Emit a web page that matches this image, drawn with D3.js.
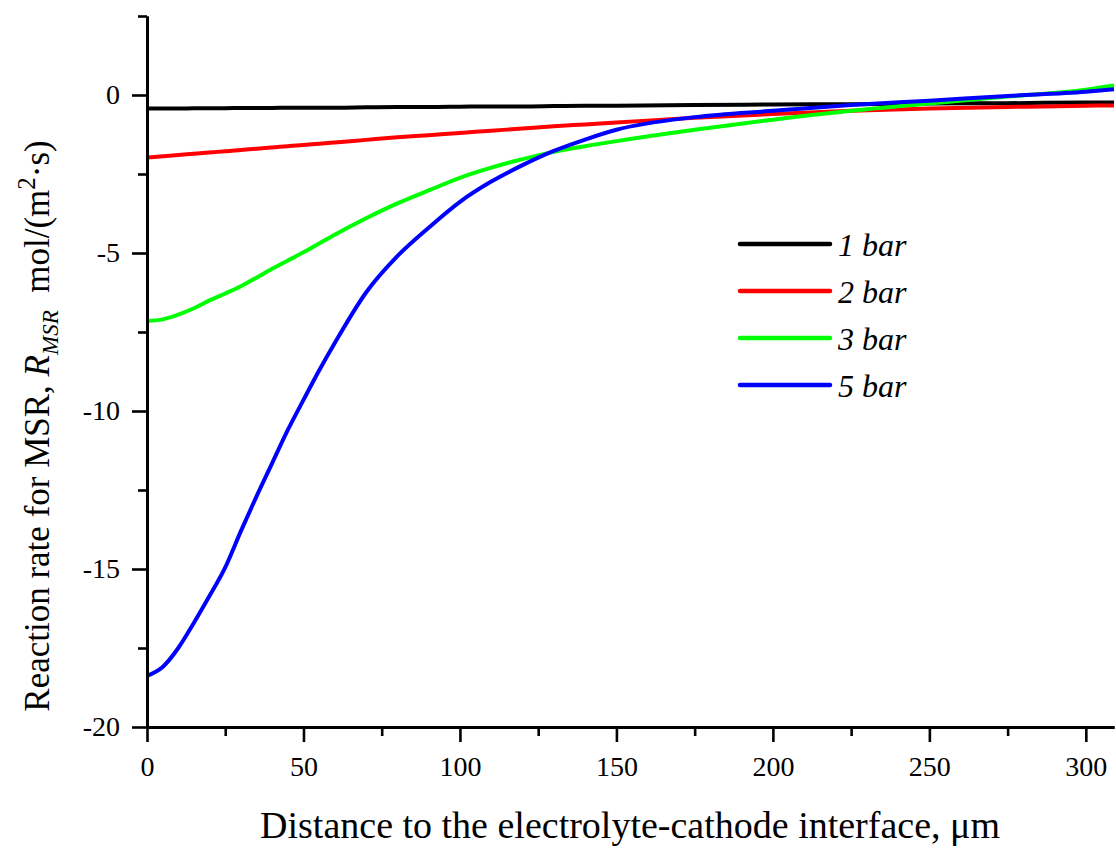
<html>
<head>
    <script src="https://d3js.org/d3.v7.min.js"></script>
    <style>
        body { margin: 0; background: #fff; }
        text { font-family: "Liberation Serif", "Times New Roman", serif; }
    </style>
</head>
<body>
    <div id="cont"></div>
    <script>
        // distance (um) shared by all series
        var dist = [0, 5, 10, 15, 20, 25, 30, 35, 40, 45, 50, 55, 60, 70, 80, 90, 100,
                    110, 120, 130, 140, 150, 175, 200, 225, 250, 275, 300, 309];

        var bar1 = [-0.43, -0.43, -0.43, -0.42, -0.42, -0.42, -0.41, -0.41, -0.41, -0.40, -0.40, -0.40, -0.40, -0.39, -0.38, -0.38, -0.37,
                    -0.36, -0.36, -0.35, -0.34, -0.34, -0.32, -0.30, -0.29, -0.27, -0.26, -0.24, -0.24];
        var bar2 = [-1.98, -1.94, -1.90, -1.86, -1.82, -1.78, -1.74, -1.70, -1.66, -1.62, -1.58, -1.54, -1.50, -1.42, -1.34, -1.27, -1.20,
                    -1.13, -1.06, -0.99, -0.93, -0.87, -0.72, -0.60, -0.50, -0.43, -0.38, -0.34, -0.33];
        var bar3 = [-7.15, -7.10, -6.95, -6.75, -6.50, -6.28, -6.05, -5.78, -5.50, -5.24, -4.98, -4.70, -4.42, -3.90, -3.43, -3.02, -2.62,
                    -2.30, -2.03, -1.80, -1.62, -1.46, -1.10, -0.78, -0.50, -0.27, -0.05, 0.17, 0.30];
        var bar5 = [-18.38, -18.10, -17.50, -16.70, -15.85, -14.95, -13.80, -12.70, -11.65, -10.60, -9.65, -8.72, -7.85, -6.25, -5.10, -4.20, -3.38,
                    -2.74, -2.22, -1.77, -1.41, -1.10, -0.70, -0.50, -0.32, -0.18, -0.03, 0.10, 0.18];

        var seriesNames = ["1 bar", "2 bar", "3 bar", "5 bar"];
        var seriesColors = ["#000000", "#ff0000", "#00ff00", "#0000ff"];
        var seriesValues = [bar1, bar2, bar3, bar5];

        var xMajor = [0, 50, 100, 150, 200, 250, 300];
        var xMinor = [25, 75, 125, 175, 225, 275];
        var yMajor = [-20, -15, -10, -5, 0];
        var yMinor = [-17.5, -12.5, -7.5, -2.5, 2.5];

        var W = 1116, H = 848;
        var svg = d3.select("#cont").append("svg")
            .attr("width", W)
            .attr("height", H);

        var x = d3.scaleLinear().domain([0, 309]).range([147, 1114]);
        var y = d3.scaleLinear().domain([-20, 2.5]).range([727, 16]);

        // curves
        var line = d3.line()
            .x(function (d) { return x(d[0]); })
            .y(function (d) { return y(d[1]); })
            .curve(d3.curveMonotoneX);

        seriesValues.forEach(function (vals, i) {
            svg.append("path")
                .datum(dist.map(function (d, k) { return [d, vals[k]]; }))
                .attr("fill", "none")
                .attr("stroke", seriesColors[i])
                .attr("stroke-width", 4)
                .attr("d", line);
        });

        // axes
        var styleAxis = function (g) {
            g.attr("font-family", null);
            g.select(".domain").attr("stroke", "#000").attr("stroke-width", 3);
            g.selectAll(".tick line").attr("stroke", "#000").attr("stroke-width", 2.6);
            g.selectAll(".tick text")
                .attr("fill", "#000")
                .style("font-family", '"Liberation Serif", "Times New Roman", serif')
                .style("font-size", "28px");
        };

        svg.append("g")
            .attr("transform", "translate(0,727)")
            .call(d3.axisBottom(x).tickValues(xMinor).tickSize(9).tickSizeOuter(0).tickFormat(""))
            .call(styleAxis);
        svg.append("g")
            .attr("transform", "translate(0,727)")
            .call(d3.axisBottom(x).tickValues(xMajor).tickSize(15).tickSizeOuter(0).tickPadding(14))
            .call(styleAxis);

        svg.append("g")
            .attr("transform", "translate(147,0)")
            .call(d3.axisLeft(y).tickValues(yMinor).tickSize(9).tickSizeOuter(0).tickFormat(""))
            .call(styleAxis);
        svg.append("g")
            .attr("transform", "translate(147,0)")
            .call(d3.axisLeft(y).tickValues(yMajor).tickSize(15).tickSizeOuter(0).tickPadding(12)
                .tickFormat(function (d) { return d < 0 ? "-" + (-d) : d; }))
            .call(styleAxis);

        // x title
        svg.append("text")
            .attr("x", 630)
            .attr("y", 838)
            .attr("text-anchor", "middle")
            .style("font-size", "38px")
            .text("Distance to the electrolyte-cathode interface, \u03bcm");

        // y title
        var yt = svg.append("text")
            .attr("transform", "translate(49,426) rotate(-90)")
            .attr("text-anchor", "middle")
            .style("font-size", "35px");
        yt.append("tspan").text("Reaction rate for MSR, ");
        yt.append("tspan").style("font-style", "italic").text("R");
        yt.append("tspan").style("font-style", "italic").style("font-size", "23px").attr("dy", 9).text("MSR");
        yt.append("tspan").attr("dy", -9).text("\u00a0\u00a0mol/(m");
        yt.append("tspan").style("font-size", "25px").attr("dy", -14).text("2");
        yt.append("tspan").attr("dy", 14).text("\u00b7s)");

        // legend
        var legend = svg.append("g");
        seriesNames.forEach(function (name, i) {
            var ly = 244 + i * 47;
            legend.append("line")
                .attr("x1", 740).attr("x2", 830)
                .attr("y1", ly).attr("y2", ly)
                .attr("stroke", seriesColors[i])
                .attr("stroke-width", 4.5)
                .attr("stroke-linecap", "round");
            legend.append("text")
                .attr("x", 838)
                .attr("y", ly + 12)
                .style("font-size", "32px")
                .style("font-style", "italic")
                .text(name);
        });
    </script>
</body>
</html>
